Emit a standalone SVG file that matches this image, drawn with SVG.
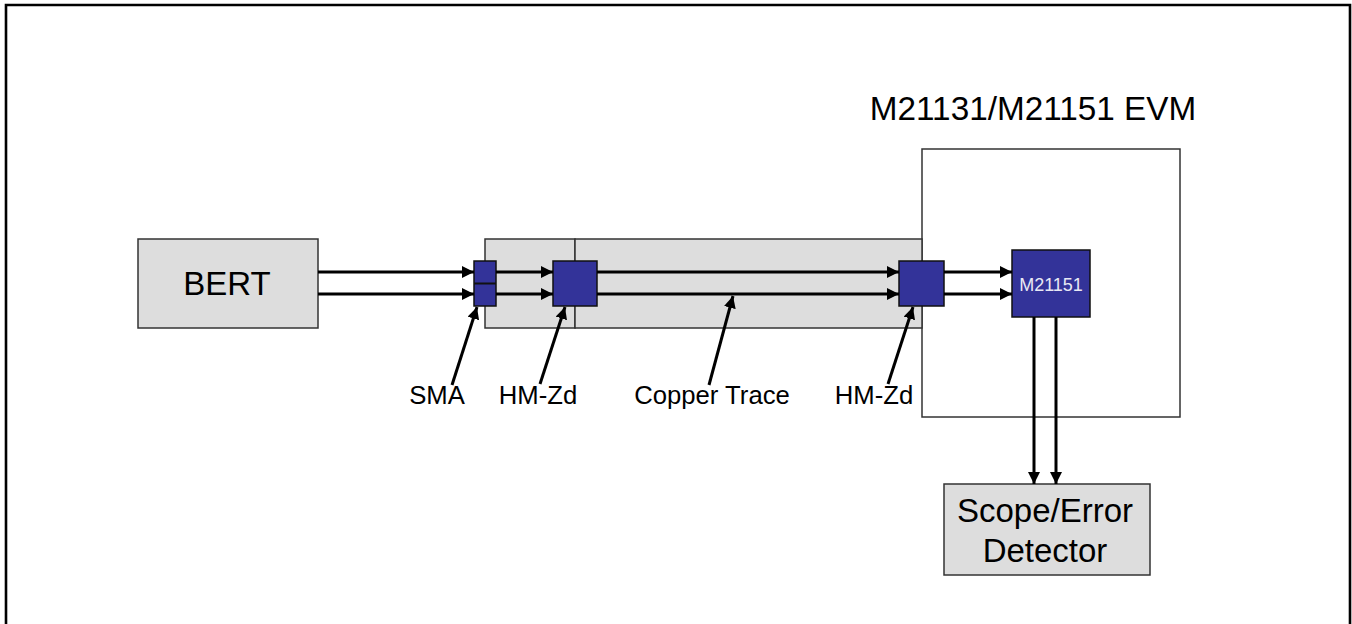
<svg xmlns="http://www.w3.org/2000/svg" width="1352" height="624" viewBox="0 0 1352 624">
<style>
text{font-family:"Liberation Sans",Arial,sans-serif;fill:#000}
.box{fill:#dddddd;stroke:#333333;stroke-width:1.5}
.evm{fill:#ffffff;stroke:#333333;stroke-width:1.5}
.chip{fill:#333399;stroke:#111111;stroke-width:1.5}
.wire{stroke:#000;stroke-width:3;fill:none;marker-end:url(#ah)}
.ptr{stroke:#000;stroke-width:3;fill:none;marker-end:url(#ah)}
.lbl{font-size:25.7px;text-anchor:middle}
.big{font-size:33px;text-anchor:middle}
</style>
<defs>
<marker id="ah" markerUnits="userSpaceOnUse" markerWidth="13" markerHeight="12" refX="12" refY="6" orient="auto">
<path d="M0,0 L12,6 L0,12 z" fill="#000"/>
</marker>
</defs>
<rect width="1352" height="624" fill="#ffffff"/>
<path d="M6,624 V5 H1350 V624" fill="none" stroke="#000" stroke-width="2.6"/>

<g id="title"><text x="1033" y="120" style="font-size:33.3px;text-anchor:middle">M21131/M21151 EVM</text></g>

<g id="evm"><rect class="evm" x="922" y="149" width="258" height="268"/></g>

<g id="bert"><rect class="box" x="138" y="239" width="180" height="89"/><text class="big" x="227" y="295">BERT</text></g>

<g id="backplane">
<rect class="box" x="485" y="239" width="90" height="89"/>
<rect class="box" x="575" y="239" width="347" height="89"/>
</g>

<g id="sma"><rect class="chip" x="474" y="261" width="22" height="45"/><line x1="474" y1="283.5" x2="496" y2="283.5" stroke="#111" stroke-width="2"/></g>
<g id="hmzd1"><rect class="chip" x="553" y="261" width="44" height="45"/></g>
<g id="hmzd2"><rect class="chip" x="899" y="261" width="45" height="45"/></g>
<g id="m21151"><rect class="chip" x="1012" y="250" width="78" height="67"/><text x="1051" y="291" style="font-size:18px;text-anchor:middle;fill:#e8e8f4">M21151</text></g>

<g id="scope"><rect class="box" x="944" y="484" width="206" height="91"/>
<text class="big" x="1045" y="522">Scope/Error</text>
<text class="big" x="1045" y="562">Detector</text></g>

<g id="connectors">
<line class="wire" x1="318" y1="272" x2="474" y2="272"/>
<line class="wire" x1="318" y1="294" x2="474" y2="294"/>
<line class="wire" x1="496" y1="272" x2="553" y2="272"/>
<line class="wire" x1="496" y1="294" x2="553" y2="294"/>
<line class="wire" x1="597" y1="272" x2="899" y2="272"/>
<line class="wire" x1="597" y1="294" x2="899" y2="294"/>
<line class="wire" x1="944" y1="272" x2="1012" y2="272"/>
<line class="wire" x1="944" y1="294" x2="1012" y2="294"/>
<line class="wire" x1="1034" y1="317" x2="1034" y2="484"/>
<line class="wire" x1="1056" y1="317" x2="1056" y2="484"/>
<line class="ptr" x1="452" y1="385" x2="477" y2="307"/>
<line class="ptr" x1="540" y1="384" x2="565" y2="307"/>
<line class="ptr" x1="709" y1="385" x2="733" y2="296"/>
<line class="ptr" x1="888" y1="384" x2="913" y2="307"/>
</g>

<g id="labels">
<text class="lbl" x="437" y="404">SMA</text>
<text class="lbl" x="538" y="404">HM-Zd</text>
<text class="lbl" x="712" y="404">Copper Trace</text>
<text class="lbl" x="874" y="404">HM-Zd</text>
</g>
</svg>
